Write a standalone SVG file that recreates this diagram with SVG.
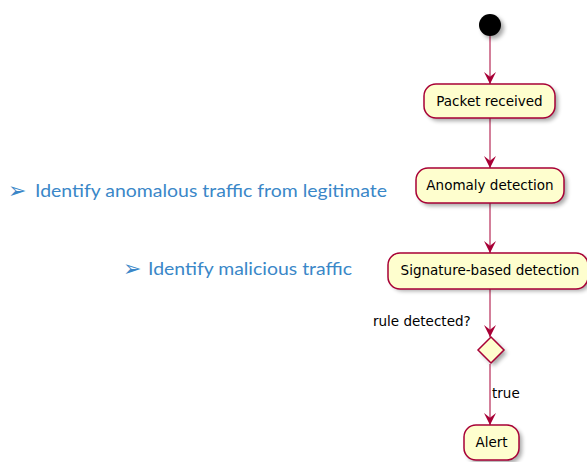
<svg xmlns="http://www.w3.org/2000/svg" width="587" height="462" viewBox="0 0 587 462">
  <style>
    .act { fill: #FEFECE; stroke: #A80036; stroke-width: 1.5; }
    .shadow { fill: #000; opacity: 0.35; filter: url(#blur); }
    .lbl { font-family: "DejaVu Sans", sans-serif; font-size: 13.5px; fill: #000; }
    .edge { stroke: #A80036; stroke-width: 1; fill: none; marker-end: url(#arrow); }
    .note { font-family: "Lato", "Liberation Sans", sans-serif; font-size: 17px; fill: #3A87C8; }
    .bullet { font-family: "DejaVu Sans", sans-serif; font-size: 22px; fill: #3A87C8; }
  </style>
  <defs>
    <filter id="blur" x="-20%" y="-20%" width="140%" height="140%">
      <feGaussianBlur stdDeviation="2"/>
    </filter>
    <marker id="arrow" markerWidth="12" markerHeight="12" refX="10" refY="5" orient="auto" markerUnits="userSpaceOnUse" viewBox="0 0 10 10">
      <path d="M0,0 L10,5 L0,10 L4,5 Z" fill="#A80036"/>
    </marker>
  </defs>

  <rect width="587" height="462" fill="#fff"/>

  <!-- bullet notes -->
  <g id="note-anomaly">
    <text class="bullet" x="8" y="198">➢</text>
    <text class="note" x="35" y="197" textLength="352" lengthAdjust="spacingAndGlyphs">Identify anomalous traffic from legitimate</text>
  </g>
  <g id="note-malicious">
    <text class="bullet" x="123" y="276">➢</text>
    <text class="note" x="148" y="275" textLength="204" lengthAdjust="spacingAndGlyphs">Identify malicious traffic</text>
  </g>

  <!-- connectors -->
  <g id="edges">
    <line class="edge" x1="490" y1="36" x2="490" y2="84"/>
    <line class="edge" x1="490" y1="118" x2="490" y2="168"/>
    <line class="edge" x1="490" y1="203" x2="490" y2="253"/>
    <line class="edge" x1="490" y1="289" x2="490" y2="337"/>
    <line class="edge" x1="490" y1="364" x2="490" y2="425"/>
    <text class="lbl" x="373" y="326" font-size="11.5">rule detected?</text>
    <text class="lbl" x="492" y="398" font-size="11.5">true</text>
  </g>

  <!-- start -->
  <g id="start">
    <circle class="shadow" cx="493" cy="28" r="11"/>
    <circle cx="490" cy="25" r="11" fill="#000"/>
  </g>

  <g id="packet-received">
    <rect class="shadow" x="427" y="87" width="131" height="34" rx="12"/>
    <rect class="act" x="424" y="84" width="131" height="34" rx="12"/>
    <text class="lbl" x="489.5" y="106" text-anchor="middle">Packet received</text>
  </g>

  <g id="anomaly-detection">
    <rect class="shadow" x="419" y="171" width="148" height="35" rx="12"/>
    <rect class="act" x="416" y="168" width="148" height="35" rx="12"/>
    <text class="lbl" x="490" y="190" text-anchor="middle">Anomaly detection</text>
  </g>

  <g id="signature-detection">
    <rect class="shadow" x="391" y="256" width="200" height="35" rx="12"/>
    <rect class="act" x="388" y="253" width="200" height="36" rx="12"/>
    <text class="lbl" x="490" y="275" text-anchor="middle">Signature-based detection</text>
  </g>

  <g id="decision">
    <polygon class="shadow" points="494,340 507,353 494,366 481,353"/>
    <polygon class="act" points="491,337 504,350 491,363 478,350"/>
  </g>

  <g id="alert">
    <rect class="shadow" x="467" y="428" width="55" height="35" rx="12"/>
    <rect class="act" x="464" y="425" width="55" height="35" rx="12"/>
    <text class="lbl" x="491.5" y="447" text-anchor="middle">Alert</text>
  </g>
</svg>
